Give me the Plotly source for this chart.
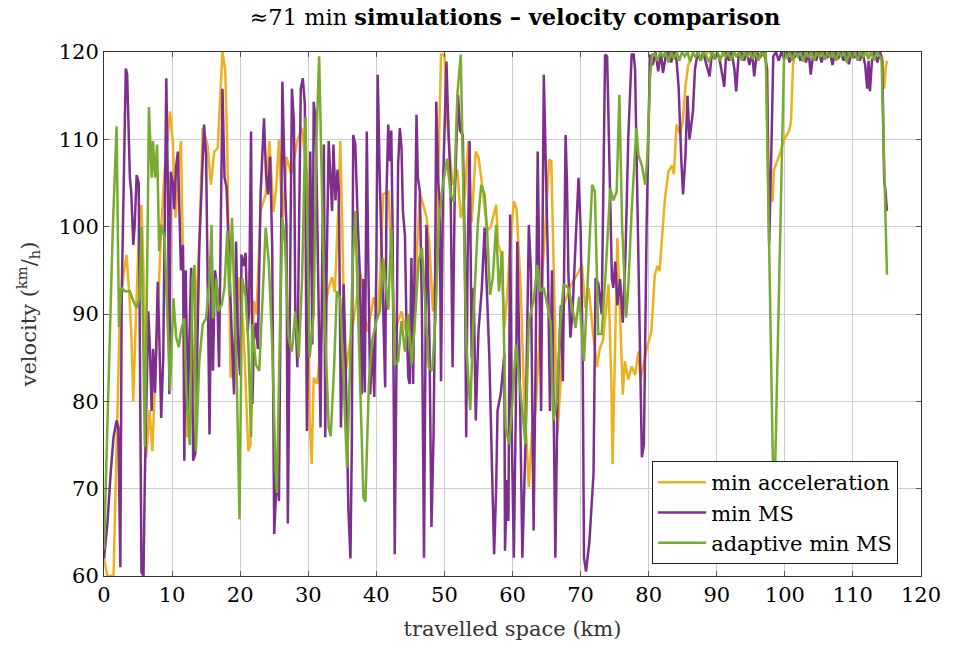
import plotly.graph_objects as go

# ---------------- data (km, km/h) ----------------
acc_x = [0, 0.5, 1.4, 1.6, 2.1, 2.3, 2.8, 3.3, 3.7, 4.0, 4.3, 4.7, 5.2, 5.5, 5.8, 6.2, 6.7, 7.1, 7.5, 7.9,
         8.4, 8.9, 9.4, 9.7, 10.1, 10.5, 10.9, 11.3, 11.7, 12.2, 12.6, 13.1, 13.5, 14.0, 14.5, 15.2, 15.7, 16.2, 16.7, 17.4,
         17.8, 18.1, 18.6, 19.1, 19.5, 19.9, 20.5, 21.2, 21.5, 22.0, 22.4, 23.0, 23.75, 24.3, 24.9, 25.3, 25.7, 26.0, 26.3, 26.8,
         27.5, 28.4, 29.1, 29.9, 30.2, 30.5, 30.8, 31.3, 31.8, 32.3, 33.0, 33.5, 33.9, 34.5, 34.7, 35.0, 35.4, 35.9, 36.4, 37.0,
         37.6, 38.0, 38.6, 39.2, 39.6, 40.2, 40.6, 41.0, 41.8, 42.2, 42.7, 43.2, 43.7, 44.2, 44.7, 45.4, 45.9, 46.4, 46.9, 47.4,
         47.8, 48.3, 48.8, 49.3, 49.5, 50.0, 50.4, 51.2, 51.9, 52.4, 53.0, 53.5, 54.0, 54.6, 55.0, 55.5, 56.3, 56.8, 57.6, 57.9,
         58.3, 58.8, 59.2, 59.6, 60.2, 60.6, 61.2, 61.7, 62.2, 62.4, 62.9, 63.4, 63.9, 64.4, 64.9, 65.4, 65.7, 65.9, 66.2, 66.6,
         67.1, 67.5, 68.0, 68.7, 69.5, 70.2, 70.7, 71.2, 71.8, 72.4, 72.8, 73.3, 74.1, 74.5, 74.7, 75.1, 75.4, 75.8, 76.2, 76.5,
         77.0, 77.5, 78.0, 78.5, 78.8, 79.2, 79.7, 80.4, 80.9, 81.3, 81.6, 82.1, 82.4, 82.9, 83.4, 83.7, 84.1, 84.6, 85.0, 85.4,
         85.8, 86.5, 87.5, 89.0, 90.5, 92.0, 93.5, 95.0, 96.5, 97.2, 97.6, 98.2, 98.4, 99.2, 99.9, 100.6, 100.9, 101.2, 101.5, 103.0,
         105.0, 107.0, 109.0, 111.0, 113.0, 114.3, 114.6, 114.8, 115.0]
acc_y = [62, 60, 60, 67.5, 82.7, 89.5, 94.1, 96.8, 92.5, 88, 80, 90, 101, 102.5, 95, 73.6, 79, 74.3, 82, 90.3,
         100, 106.3, 111.3, 113.2, 109.8, 101, 106, 109.8, 92, 75.9, 77, 82.3, 90, 98.3, 111.3, 109.4, 104.8, 108.6, 109, 120,
         118, 109.4, 82.7, 84.6, 88, 94.2, 88, 74.3, 74.9, 91.5, 90, 101.8, 103.7, 109.8, 101.7, 104.4, 110, 104, 101.1, 108,
         106, 109.8, 111.3, 105, 78, 72.8, 82.7, 82, 86, 90, 93, 94.2, 92.5, 103.7, 109.8, 100, 82.7, 85.7, 88, 91,
         94.9, 93, 88, 90, 91.9, 90, 95, 103.7, 104, 97, 88, 89.2, 90.3, 88.5, 87, 85, 96, 103.7, 102.5, 101,
         98, 90.3, 96, 111.3, 119.7, 119.7, 112, 104.8, 106.5, 101, 103.7, 109.8, 100.5, 108.6, 108, 105, 99.5, 100, 102.5, 97.9,
         97, 88.5, 92, 97, 102.9, 102, 93, 80.8, 73.2, 70.2, 77, 79, 86.5, 95, 101, 107.7, 107.5, 100.6, 86.5, 76.2,
         82.7, 91, 92, 93.5, 94.5, 95.6, 90.7, 93, 88, 83.9, 86, 87, 93.4, 82.7, 72.8, 90.3, 98.7, 90, 80.8, 84.6,
         82.5, 84, 83, 85.7, 82.5, 84, 86, 88, 94.5, 95.5, 94.9, 100.2, 103.3, 106.3, 107, 106, 111.7, 110.6, 112, 116,
         118.5, 119.7, 119.5, 120, 119.4, 120, 119.6, 120, 119.5, 120, 103, 103, 106.5, 108.2, 110, 110.9, 112, 118.5, 120, 119.6,
         120, 119.5, 120, 119.6, 120, 119.5, 115.8, 118, 119]

ms_x = [0, 0.5, 1.0, 1.4, 1.85, 2.1, 2.4, 2.6, 2.9, 3.2, 3.4, 3.8, 4.0, 4.3, 4.5, 4.8, 5.1, 5.5, 5.8, 6.0,
        6.5, 6.7, 7.0, 7.2, 7.5, 7.9, 8.1, 8.4, 8.7, 9.15, 9.4, 9.6, 9.8, 10.1, 10.3, 10.6, 10.85, 11.1, 11.3, 11.6,
        11.8, 12.0, 12.3, 12.8, 13.1, 13.4, 14.0, 14.3, 14.7, 15.0, 15.5, 15.8, 16.0, 16.3, 16.6, 16.9, 17.4, 17.7, 18.0, 18.3,
        18.6, 18.9, 19.1, 19.4, 19.7, 20.0, 20.2, 20.5, 20.8, 21.1, 21.3, 21.6, 21.8, 22.0, 22.3, 22.6, 23.0, 23.5, 23.8, 24.1,
        24.4, 24.7, 25.0, 25.4, 25.7, 26.0, 26.2, 26.5, 26.8, 27.0, 27.3, 27.6, 27.9, 28.1, 28.4, 28.7, 28.9, 29.2, 29.5, 29.8,
        30.1, 30.3, 30.6, 30.8, 31.1, 31.4, 31.8, 32.1, 32.3, 32.5, 32.7, 33.0, 33.3, 33.5, 33.7, 34.0, 34.3, 34.5, 34.8, 35.2,
        35.5, 35.9, 36.2, 36.4, 36.6, 36.9, 37.3, 37.6, 37.85, 38.1, 38.3, 38.6, 38.8, 39.1, 39.4, 39.7, 40.0, 40.2, 40.5, 40.8,
        41.0, 41.3, 41.5, 41.75, 42.0, 42.2, 42.4, 42.7, 43.0, 43.2, 43.45, 43.7, 43.9, 44.2, 44.4, 44.7, 44.9, 45.15, 45.4, 45.9,
        46.1, 46.4, 46.7, 47.0, 47.35, 47.5, 47.8, 48.1, 48.4, 48.6, 48.8, 49.1, 49.3, 49.5, 49.8, 50.3, 50.6, 50.9, 51.2, 51.5,
        52.0, 52.3, 52.7, 53.0, 53.2, 53.4, 53.7, 54.0, 54.3, 54.6, 55.0, 55.5, 55.9, 56.2, 56.6, 57.0, 57.3, 57.6, 57.8, 58.3,
        58.8, 58.9, 59.2, 59.4, 59.65, 59.9, 60.2, 60.5, 60.7, 61.0, 61.45, 61.9, 62.4, 62.7, 63.1, 63.4, 63.7, 64.0, 64.2, 64.6,
        64.9, 65.2, 65.5, 65.8, 66.3, 66.6, 66.9, 67.1, 67.4, 67.8, 68.0, 68.2, 68.5, 68.8, 69.2, 69.7, 70.0, 70.3, 70.5, 70.8,
        71.3, 71.9, 72.2, 72.6, 73.1, 73.6, 73.9, 74.1, 74.6, 74.8, 75.1, 75.4, 75.8, 76.2, 76.6, 77.0, 77.5, 77.8, 78.0, 78.3,
        78.6, 79.0, 79.3, 79.7, 80.2, 80.6, 81.0, 81.4, 81.8, 82.1, 82.5, 82.9, 83.3, 83.7, 84.1, 84.4, 84.8, 85.05, 85.4, 85.7,
        86.0, 86.5, 86.8, 87.2, 87.6, 88.0, 88.5, 88.95, 89.3, 89.7, 90.1, 90.5, 90.9, 91.1, 91.4, 91.8, 92.2, 92.6, 92.85, 93.2,
        93.6, 94.0, 94.4, 94.8, 95.2, 95.5, 95.9, 96.3, 96.7, 97.1, 97.4, 97.7, 98.0, 98.3, 98.7, 99.1, 99.5, 99.9, 100.3, 100.7,
        101.1, 101.5, 101.9, 102.3, 102.7, 103.1, 103.5, 103.8, 104.2, 104.6, 105.0, 105.4, 105.8, 106.2, 106.6, 107.0, 107.4, 107.8, 108.2, 108.6,
        109.0, 109.4, 109.8, 110.2, 110.6, 111.0, 111.4, 111.8, 112.1, 112.3, 112.5, 112.8, 113.2, 113.6, 114.0, 114.3, 114.6, 114.75, 115.0]
ms_y = [62, 66, 72, 75.9, 77.8, 77, 61, 92.2, 105, 118.1, 117.5, 105.6, 104, 97.9, 100, 105.9, 105, 60.5, 60, 71.3,
        90.3, 87, 78.9, 86, 81, 93.7, 88, 78.1, 85, 117, 103.7, 80.8, 106.3, 105, 102, 107, 108.6, 101, 95, 97.9,
        73.2, 95, 79, 95.3, 73.2, 74, 97.9, 103.7, 111.7, 108, 76.2, 99, 83.5, 95, 93, 83.9, 115.8, 105.6, 104.5, 98,
        90, 84.6, 80.8, 98.3, 86, 83, 96.8, 95.5, 97, 88, 90.3, 110.9, 79.7, 86.8, 89, 86, 103.7, 112.4, 106, 103.7,
        108, 97.9, 64.8, 72, 68.6, 95, 116.6, 107, 100, 66, 95, 115.8, 112, 90.3, 83.9, 108, 115.8, 117, 114, 76.6,
        95, 108.6, 86.5, 114.3, 112, 95, 77, 100, 109.4, 75.9, 95, 109.8, 103.7, 101.8, 109.4, 103, 106.5, 104, 77, 93.4,
        84, 67.5, 62, 75, 110.5, 109.5, 100, 94.1, 80.8, 94, 81, 110.9, 97, 80.8, 87, 80.5, 95, 117.4, 105.6, 97,
        89, 81.6, 104, 111.7, 107.5, 111, 99, 62.5, 88, 107.1, 111.3, 109, 101.8, 99, 90, 82.7, 82, 96.4, 82, 112.8,
        105.6, 104, 90, 62.1, 100.2, 98, 87, 65.6, 76, 90, 114.3, 105, 103, 82.3, 105, 118.9, 111, 105, 83.9, 103,
        115.1, 111, 110.5, 97, 75.9, 96, 109.8, 85, 93, 77.8, 88, 93, 99.9, 93, 85, 72, 62.5, 70, 78.9, 81,
        85.4, 62.9, 71, 66.3, 101.4, 76, 62.1, 80, 98.3, 86, 62.1, 75, 100.2, 95, 65.2, 85, 108.6, 91, 78.9, 117.4,
        108, 96, 78.9, 95, 62.1, 80, 87, 91, 82.3, 110.5, 105, 95, 87.3, 90, 97, 105.6, 100, 86, 62.1, 60.5,
        64, 71.7, 94.1, 93.5, 90, 119.7, 119.5, 113.2, 94.1, 93, 96, 91, 94, 89, 97, 110, 119.7, 119.7, 118, 105,
        90, 73.6, 75, 100, 119.7, 118.5, 120, 117.8, 120, 117.6, 119.5, 120, 118.8, 120, 119, 116, 107.5, 103.7, 108, 115,
        110, 113.2, 118, 120, 119, 120, 118.5, 117.2, 120, 119.2, 120, 118.8, 117, 116, 120, 119, 120, 118, 115.5, 119.5,
        120, 119, 120, 118.5, 120, 117.2, 120, 119.3, 120, 119.5, 118, 98, 108, 119.5, 120, 119, 120, 119.2, 120, 118.8,
        120, 119.5, 120, 119, 120, 118.8, 120, 117.4, 120, 119, 120, 118.8, 120, 119.3, 120, 118.5, 120, 119.2, 120, 119,
        120, 118.6, 120, 119.3, 120, 119, 120, 118.5, 115.8, 119, 115.5, 119, 120, 118.8, 120, 119, 105, 104.4, 101.8]

ad_x = [0, 0.8, 1.3, 1.85, 2.2, 2.5, 3.1, 3.8, 4.3, 4.8, 5.2, 5.5, 6.0, 6.4, 6.6, 7.0, 7.2, 7.5, 7.8, 8.1,
        8.4, 8.9, 9.4, 9.7, 10.2, 10.6, 11.0, 11.3, 11.8, 12.1, 12.6, 13.0, 13.3, 13.5, 14.0, 14.5, 15.0, 15.5, 15.8, 16.0,
        16.5, 16.8, 17.3, 17.7, 18.1, 18.4, 18.8, 19.1, 19.5, 19.9, 20.3, 20.8, 21.2, 21.6, 21.8, 22.3, 22.8, 23.3, 23.75, 24.2,
        24.7, 25.2, 25.4, 25.8, 26.2, 26.6, 27.1, 27.6, 28.1, 28.6, 29.1, 29.6, 29.9, 30.2, 30.8, 31.2, 31.6, 32.0, 32.4, 33.0,
        33.3, 33.8, 34.2, 34.7, 35.2, 35.7, 36.1, 36.5, 36.9, 37.3, 37.7, 38.1, 38.4, 38.9, 39.4, 40.0, 40.5, 41.0, 41.75, 42.2,
        42.7, 43.2, 43.7, 44.2, 44.7, 45.2, 45.7, 46.2, 46.7, 47.2, 47.7, 48.2, 48.7, 49.2, 49.7, 50.4, 50.9, 51.4, 51.9, 52.4,
        52.7, 53.2, 53.8, 54.3, 54.9, 55.4, 55.9, 56.3, 56.7, 57.1, 57.6, 58.0, 58.5, 59.0, 59.5, 60.0, 60.5, 61.0, 61.45, 61.9,
        62.4, 63.1, 63.65, 64.1, 64.6, 65.1, 65.6, 66.0, 66.5, 67.05, 67.5, 68.2, 68.9, 69.25, 69.8, 70.5, 71.1, 71.7, 72.1, 72.6,
        73.1, 73.7, 74.35, 74.8, 75.3, 75.7, 76.1, 76.7, 77.0, 77.5, 78.2, 78.5, 79.0, 79.5, 79.8, 80.2, 80.5, 80.9, 81.3, 81.7,
        82.1, 82.5, 82.9, 83.3, 83.7, 84.1, 84.5, 84.9, 85.3, 85.7, 86.1, 86.5, 86.9, 87.3, 87.7, 88.1, 88.5, 88.9, 89.3, 89.7,
        90.1, 90.5, 90.9, 91.3, 91.7, 92.1, 92.5, 92.9, 93.3, 93.7, 94.1, 94.5, 94.9, 95.3, 95.7, 96.1, 96.5, 96.9, 97.2, 98.4,
        99.9, 100.3, 100.7, 101.1, 101.5, 101.9, 102.3, 102.7, 103.1, 103.5, 103.9, 104.3, 104.7, 105.1, 105.5, 105.9, 106.3, 106.7, 107.1, 107.5,
        107.9, 108.3, 108.7, 109.1, 109.5, 109.9, 110.3, 110.7, 111.1, 111.5, 111.9, 112.3, 112.7, 113.1, 113.5, 113.9, 114.2, 115.0]
ad_y = [63, 85, 100, 111.5, 88.5, 93, 92.6, 92.6, 91.5, 90.7, 91.8, 100, 74.8, 99, 113.7, 105.6, 109.8, 105.6, 109.4, 97.2,
        100.2, 98.7, 87.3, 81.2, 91.8, 87.3, 86.2, 88.1, 89.5, 81.2, 75, 94.1, 95.6, 74.3, 84.6, 88.8, 89.5, 94.1, 100.2, 89.5,
        94.1, 90.3, 91.1, 93, 99.5, 92, 101, 94.1, 82.7, 66.5, 94.1, 92, 86.6, 75.9, 88.8, 84.2, 83.5, 92, 99.9, 96,
        86.6, 72.2, 69.5, 86.6, 101, 98, 87.3, 85.7, 90.3, 85, 94.1, 112.5, 100, 85, 90, 110, 119.5, 105, 90, 77,
        76, 84, 92.6, 91.8, 82.7, 72.4, 83, 95, 101.8, 90, 78, 69, 68.5, 82, 87, 89.2, 90.3, 96.4, 90.5, 99.9,
        84.2, 84.6, 89.2, 85.7, 90, 84.2, 89.5, 96, 97.6, 90.3, 83.9, 83.5, 89.5, 100.6, 104.4, 107.8, 103.7, 102.9, 115.1, 119.7,
        105.6, 86.6, 79, 90.3, 100.2, 104.8, 103.7, 99.1, 92.2, 94.1, 100.2, 92.6, 97.2, 77, 75.1, 80, 86.5, 82, 78.9, 75.1,
        89.2, 91.5, 95.6, 92.6, 93, 91.1, 89, 77.8, 80, 89.2, 93.4, 93, 90.3, 88.4, 92, 84.6, 95, 104.8, 104, 87.7,
        87.7, 95, 104.4, 103, 104, 115.1, 100, 89.6, 93, 101.8, 111.3, 108.2, 107, 104.8, 108, 117, 119.7, 119.8, 119, 120,
        119.5, 120, 118.8, 120, 119.2, 120, 119, 120, 119.5, 120, 118.9, 120, 119.4, 120, 119, 120, 119.5, 118.8, 120, 119.3,
        120, 119, 120, 119.5, 120, 119, 120, 119.4, 120, 119, 120, 119.5, 120, 119.2, 120, 119, 120, 119.6, 120, 66,
        120, 119.3, 120, 119, 120, 119.5, 120, 118.9, 120, 119.4, 120, 119, 120, 119.5, 120, 119.1, 120, 119.4, 120, 119,
        120, 119.5, 120, 118.8, 120, 119.3, 120, 119, 120, 119.5, 120, 119.2, 120, 119, 120, 119.6, 119.3, 94.5]

names = ["min acceleration", "min MS", "adaptive min MS"]
colors = ["#EDB120", "#7E2F8E", "#77AC30"]
x_ticks = [0, 10, 20, 30, 40, 50, 60, 70, 80, 90, 100, 110, 120]
y_ticks = [60, 70, 80, 90, 100, 110, 120]

FONT = "DejaVu Serif"

fig = go.Figure()
for xs, ys, nm, col in zip([acc_x, ms_x, ad_x], [acc_y, ms_y, ad_y], names, colors):
    fig.add_trace(go.Scatter(x=xs, y=ys, mode="lines", name=nm,
                             line=dict(color=col, width=2.5)))

axis_common = dict(showgrid=True, gridcolor="#cccccc", gridwidth=1,
                   showline=True, linecolor="#333333", linewidth=1, mirror="ticks",
                   ticks="inside", ticklen=5, tickcolor="#555555", zeroline=False,
                   tickfont=dict(family=FONT, size=21, color="black"))

fig.update_layout(
    width=953, height=649,
    margin=dict(l=104, r=27, t=52, b=72),
    paper_bgcolor="white", plot_bgcolor="white",
    font=dict(family=FONT, color="black"),
    title=dict(text="≈71 min <b>simulations – velocity comparison</b>",
               x=(104 + 926) / 2 / 953, xanchor="center", y=1 - 17 / 649, yanchor="middle",
               font=dict(family=FONT, size=22.5, color="black")),
    xaxis=dict(range=[0, 120], tickvals=x_ticks,
               title=dict(text="travelled space (km)", font=dict(family=FONT, size=21, color="#333333"), standoff=15),
               **axis_common),
    yaxis=dict(range=[60, 120], tickvals=y_ticks,
               title=dict(text="velocity (<sup>km</sup>/<sub>h</sub>)", font=dict(family=FONT, size=21, color="#333333"), standoff=16),
               **axis_common),
    legend=dict(x=(903 - 104) / 822, y=(577 - 565) / 525, xanchor="right", yanchor="bottom",
                bgcolor="white", bordercolor="#222222", borderwidth=1, itemwidth=48,
                font=dict(family=FONT, size=21, color="black"), tracegroupgap=0),
    showlegend=True,
)

fig.write_html("out.html")
